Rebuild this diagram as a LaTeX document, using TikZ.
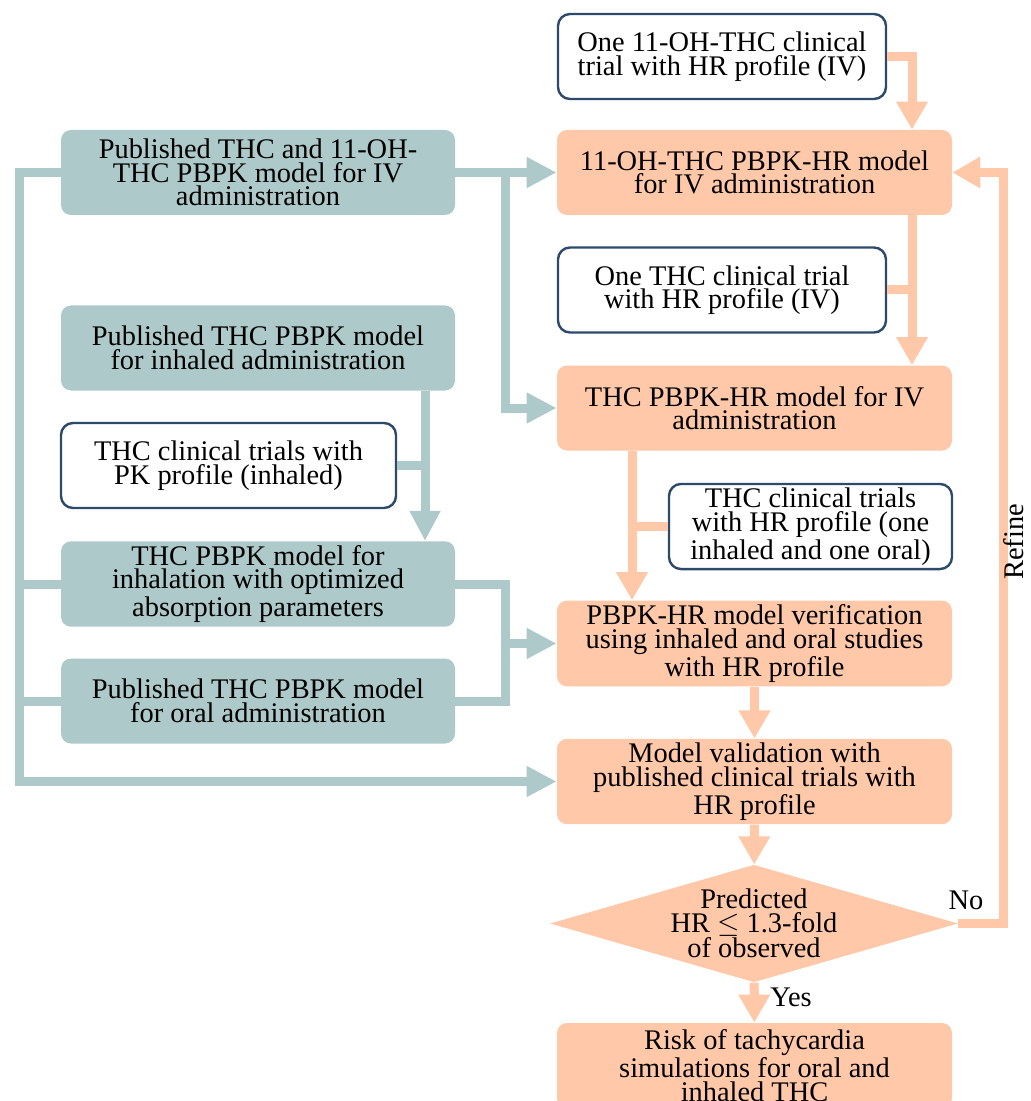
\documentclass[tikz,border=0pt]{standalone}
\usepackage{fontspec}
\setmainfont{Liberation Serif}
\usetikzlibrary{arrows.meta,shapes.geometric}
\definecolor{cteal}{HTML}{ADC9C9}
\definecolor{cpeach}{HTML}{FFC8A8}
\definecolor{cslate}{HTML}{2E4A6B}
\begin{document}
\begin{tikzpicture}[x=0.5pt,y=-0.5pt,
		txt/.style={font=\fontsize{14.2}{11.8}\selectfont,align=center,inner sep=2pt},
		model/.style={txt,fill=cteal,rounded corners=5pt,minimum width=197pt,minimum height=42.5pt},
		result/.style={txt,fill=cpeach,rounded corners=5pt,minimum width=197.5pt,minimum height=42.5pt},
		trial/.style={txt,draw=cslate,line width=1.2pt,fill=white,rounded corners=6pt,minimum width=164pt,minimum height=42.5pt},
		decision/.style={txt,diamond,fill=cpeach,inner sep=0pt,aspect=3.47,minimum width=196pt,minimum height=56.5pt},
		gline/.style={draw=cteal,line width=4.5pt},
		garrow/.style={gline,-{Triangle[width=14.5pt,length=15pt]}},
		oline/.style={draw=cpeach,line width=4.5pt},
		oarrow/.style={oline,-{Triangle[width=15pt,length=14pt]}}]
				\useasboundingbox (0,0) rectangle (1030,1101);
				\node[model] (pubIV) at (258,172.5) {Published THC and 11-OH-\\THC PBPK model for IV\\administration};
				\node[model] (pubInh) at (258,348) {Published THC PBPK model\\for inhaled administration};
				\node[trial,minimum width=167.5pt] (pkInh) at (228.5,465.5) {THC clinical trials with\\PK profile (inhaled)};
				\node[model] (optInh) at (258,584) {THC PBPK model for\\inhalation with optimized\\absorption parameters};
				\node[model] (pubOral) at (258,701) {Published THC PBPK model\\for oral administration};
				\node[trial] (hrOH) at (722,56.5) {One 11-OH-THC clinical\\trial with HR profile (IV)};
				\node[result] (ohIV) at (754.5,172.5) {11-OH-THC PBPK-HR model\\for IV administration};
				\node[trial] (hrTHC) at (722,290) {One THC clinical trial\\with HR profile (IV)};
				\node[result] (thcIV) at (754.5,408) {THC PBPK-HR model for IV\\administration};
				\node[trial,minimum width=141.5pt] (hrBoth) at (810.5,526.5) {THC clinical trials\\with HR profile (one\\inhaled and one oral)};
				\node[result] (verif) at (754.5,643.5) {PBPK-HR model verification\\using inhaled and oral studies\\with HR profile};
				\node[result] (valid) at (754.5,781.5) {Model validation with\\published clinical trials with\\HR profile};
				\node[decision] (check) at (754,923.5) {Predicted\\HR $\leq$ 1.3-fold\\of observed};
				\node[result] (risk) at (754.5,1065.5) {Risk of tachycardia\\simulations for oral and\\inhaled THC};
				\coordinate (busx) at (19,0);
				\coordinate (splitx) at (505,0);
				\coordinate (dropx) at (425,0);
				\coordinate (mainx) at (912,0);
				\coordinate (sidex) at (632,0);
				\coordinate (merge) at (verif.west -| splitx);
				% published models feed the HR models
				\draw[garrow] (pubIV.east) -- (ohIV.west);
				\draw[garrow] (pubIV.east -| splitx) |- (thcIV.west);
				\draw[garrow] (pubIV.west) -| (busx |- valid.west) -- (valid.west);
				\draw[gline] (optInh.west) -- (optInh.west -| busx);
				\draw[gline] (pubOral.west) -- (pubOral.west -| busx);
				\draw[garrow] (pubInh.south -| dropx) -- (optInh.north -| dropx);
				\draw[gline] (pkInh.east) -- (pkInh.east -| dropx);
				\draw[gline] (optInh.east) -| (merge) |- (pubOral.east);
				\draw[garrow] (merge) -- (verif.west);
				% HR model chain
				\draw[oarrow] (hrOH.east) -| (ohIV.north -| mainx);
				\draw[oarrow] (ohIV.south -| mainx) -- (thcIV.north -| mainx);
				\draw[oline] (hrTHC.east) -- (hrTHC.east -| mainx);
				\draw[oarrow] (thcIV.south -| sidex) -- (verif.north -| sidex);
				\draw[oline] (hrBoth.west) -- (hrBoth.west -| sidex);
				\draw[oarrow] (verif) -- (valid);
				\draw[oarrow] (valid) -- (check);
				\draw[oarrow] (check) -- (risk);
				\draw[oarrow] (check.east) -- ++(45,0) |- (ohIV.east);
				\node[txt] (no) at (966,900) {No};
				\node[txt] (yes) at (791,997) {Yes};
				\node[txt,rotate=90] (refine) at (1014,542) {Refine};
\end{tikzpicture}
\end{document}
